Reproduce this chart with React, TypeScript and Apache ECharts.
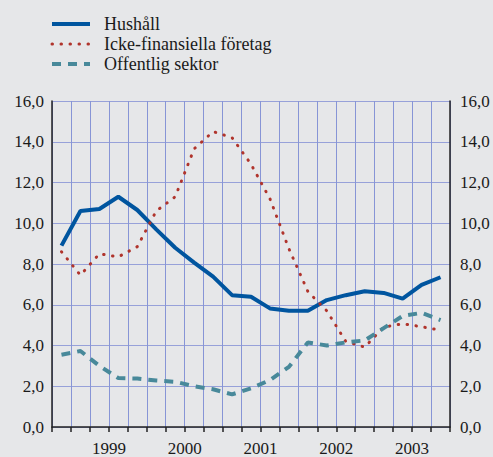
import React, { useEffect, useRef } from "react";
import * as echarts from "echarts";

const quarters = [
  "1998 K4",
  "1999 K1", "1999 K2", "1999 K3", "1999 K4",
  "2000 K1", "2000 K2", "2000 K3", "2000 K4",
  "2001 K1", "2001 K2", "2001 K3", "2001 K4",
  "2002 K1", "2002 K2", "2002 K3", "2002 K4",
  "2003 K1", "2003 K2", "2003 K3", "2003 K4",
];

const hushall = [8.9, 10.6, 10.7, 11.3, 10.65, 9.7, 8.8, 8.07, 7.38, 6.47, 6.39, 5.82, 5.71, 5.71, 6.23, 6.47, 6.66, 6.58, 6.3, 6.98, 7.35];
const ickeFinansiella = [8.6, 7.45, 8.5, 8.35, 8.85, 10.6, 11.3, 13.65, 14.5, 14.2, 12.9, 11.2, 8.75, 6.65, 5.7, 4.2, 3.92, 4.9, 5.07, 4.92, 4.75];
const offentlig = [3.55, 3.73, 3.0, 2.4, 2.38, 2.28, 2.22, 2.0, 1.85, 1.6, 1.9, 2.3, 2.95, 4.15, 4.0, 4.15, 4.25, 4.85, 5.45, 5.6, 5.25];

const seriesNames = ["Hushåll", "Icke-finansiella företag", "Offentlig sektor"];
const seriesColors = ["#00559f", "#b0342c", "#48899a"];

const FONT = "Liberation Serif";
const fmt = (v: number) => v.toFixed(1).replace(".", ",");

export default function App() {
  const ref = useRef<HTMLDivElement>(null);
  useEffect(() => {
    if (!ref.current) return;
    const chart = echarts.init(ref.current, undefined, { renderer: "svg" });
    const styles: any[] = [
      { color: seriesColors[0], width: 4 },
      { color: seriesColors[1], width: 3, type: [0.5, 8.5], cap: "round" },
      { color: seriesColors[2], width: 4, type: [9, 7] },
    ];
    chart.setOption({
      animation: false,
      backgroundColor: "#e6e7e9",
      textStyle: { fontFamily: FONT },
      legend: {
        orient: "vertical",
        left: 50,
        top: 15,
        padding: 0,
        itemWidth: 38,
        itemHeight: 14,
        itemGap: 2,
        itemStyle: { opacity: 0 },
        textStyle: { fontFamily: FONT, fontSize: 18, color: "#1a1a1a", padding: [0, 0, 0, 9] },
        data: seriesNames.map((n, i) => ({ name: n, lineStyle: styles[i] })),
      },
      grid: { left: 52, right: 43, top: 101, bottom: 25, containLabel: false },
      xAxis: {
        type: "category",
        data: quarters,
        boundaryGap: true,
        axisLine: { show: true, lineStyle: { color: "#222", width: 1.5 } },
        axisTick: { show: true, interval: 0, length: 5, lineStyle: { color: "#222", width: 1.5 } },
        splitLine: { show: true, interval: 0, lineStyle: { color: "#8795d6", width: 1 } },
        axisLabel: {
          interval: (index: number) => index % 4 === 2,
          formatter: (v: string) => v.slice(0, 4),
          fontFamily: FONT,
          fontSize: 17,
          color: "#1a1a1a",
          margin: 13,
          padding: [0, 0, 0, 19],
        },
      },
      yAxis: [
        {
          type: "value",
          min: 0,
          max: 16,
          interval: 2,
          position: "left",
          axisLine: { show: true, lineStyle: { color: "#222", width: 1.5 } },
          axisTick: { show: false },
          splitLine: { show: true, lineStyle: { color: "#97a1d9", width: 1 } },
          axisLabel: { formatter: fmt, fontFamily: FONT, fontSize: 17, color: "#1a1a1a", margin: 8 },
        },
        {
          type: "value",
          min: 0,
          max: 16,
          interval: 2,
          position: "right",
          axisLine: { show: true, lineStyle: { color: "#222", width: 1.5 } },
          axisTick: { show: false },
          splitLine: { show: false },
          axisLabel: { formatter: fmt, fontFamily: FONT, fontSize: 17, color: "#1a1a1a", margin: 10 },
        },
      ],
      series: [
        {
          name: seriesNames[0],
          type: "line",
          data: hushall,
          symbol: "none",
          lineStyle: styles[0],
          itemStyle: { color: seriesColors[0] },
        },
        {
          name: seriesNames[1],
          type: "line",
          data: ickeFinansiella,
          symbol: "none",
          lineStyle: styles[1],
          itemStyle: { color: seriesColors[1] },
        },
        {
          name: seriesNames[2],
          type: "line",
          data: offentlig,
          symbol: "none",
          lineStyle: styles[2],
          itemStyle: { color: seriesColors[2] },
        },
      ],
    });
    return () => chart.dispose();
  }, []);
  return (
    <div
      ref={ref}
      style={{ position: "absolute", left: 0, top: 0, width: 493, height: 457, background: "#e6e7e9" }}
    />
  );
}
